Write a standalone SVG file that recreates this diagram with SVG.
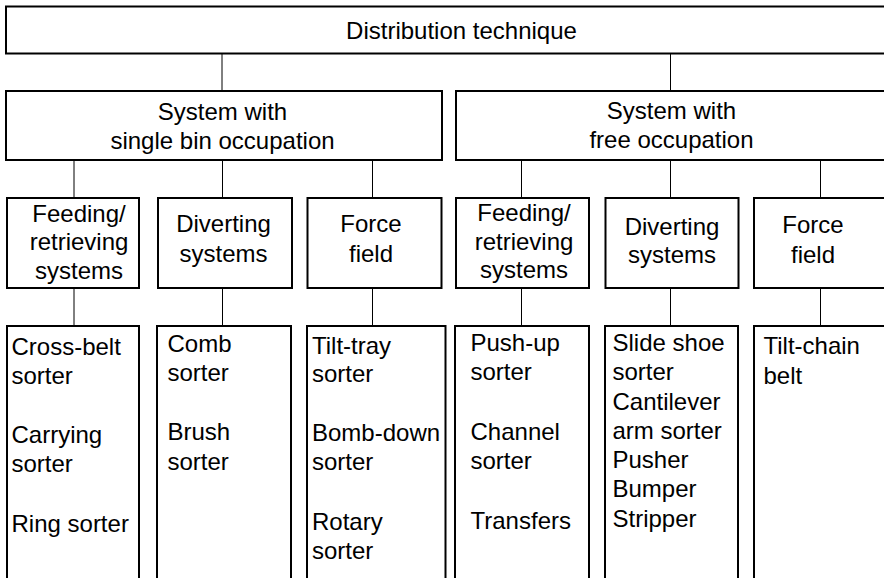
<svg xmlns="http://www.w3.org/2000/svg" width="884" height="578" viewBox="0 0 884 578">
<style>
.box{fill:#fff;stroke:#000;stroke-width:2}
.ln{stroke:#000;stroke-width:1;fill:none}
text{font-family:"Liberation Sans",Arial,sans-serif;font-size:24px;fill:#000}
.c{text-anchor:middle}
</style>
<rect width="884" height="578" fill="#fff"/>
<g id="connectors">
<line class="ln" x1="222" y1="53.5" x2="222" y2="91"/>
<line class="ln" x1="670.5" y1="53.5" x2="670.5" y2="91"/>
<line class="ln" x1="74" y1="160" x2="74" y2="198"/>
<line class="ln" x1="222.5" y1="160" x2="222.5" y2="198"/>
<line class="ln" x1="372.5" y1="160" x2="372.5" y2="198"/>
<line class="ln" x1="521.5" y1="160" x2="521.5" y2="198"/>
<line class="ln" x1="670.5" y1="160" x2="670.5" y2="198"/>
<line class="ln" x1="820.5" y1="160" x2="820.5" y2="198"/>
<line class="ln" x1="74" y1="288" x2="74" y2="326"/>
<line class="ln" x1="222.5" y1="288" x2="222.5" y2="326"/>
<line class="ln" x1="372.5" y1="288" x2="372.5" y2="326"/>
<line class="ln" x1="521.5" y1="288" x2="521.5" y2="326"/>
<line class="ln" x1="670.5" y1="288" x2="670.5" y2="326"/>
<line class="ln" x1="820.5" y1="288" x2="820.5" y2="326"/>
</g>
<g id="root">
<rect class="box" x="6" y="6.5" width="900" height="47"/>
<text class="c" x="461.5" y="38.5">Distribution technique</text>
</g>
<g id="single">
<rect class="box" x="6" y="91" width="436" height="69"/>
<text class="c" x="222.5" y="120">System with</text>
<text class="c" x="222.5" y="149">single bin occupation</text>
</g>
<g id="free">
<rect class="box" x="456" y="91" width="450" height="69"/>
<text class="c" x="671.5" y="119">System with</text>
<text class="c" x="671.5" y="148">free occupation</text>
</g>
<g id="s-feed">
<rect class="box" x="7" y="198" width="132" height="90"/>
<text class="c" x="79" y="221.5">Feeding/</text>
<text class="c" x="79" y="250">retrieving</text>
<text class="c" x="79" y="278.5">systems</text>
</g>
<g id="s-divert">
<rect class="box" x="158" y="198" width="134" height="90"/>
<text class="c" x="223.5" y="232">Diverting</text>
<text class="c" x="223.5" y="261.5">systems</text>
</g>
<g id="s-force">
<rect class="box" x="307.5" y="198" width="134" height="90"/>
<text class="c" x="371" y="232">Force</text>
<text class="c" x="371" y="261.5">field</text>
</g>
<g id="f-feed">
<rect class="box" x="456" y="198" width="133" height="90"/>
<text class="c" x="524" y="220.5">Feeding/</text>
<text class="c" x="524" y="249.5">retrieving</text>
<text class="c" x="524" y="278">systems</text>
</g>
<g id="f-divert">
<rect class="box" x="605.5" y="198" width="133" height="90"/>
<text class="c" x="672" y="235">Diverting</text>
<text class="c" x="672" y="263">systems</text>
</g>
<g id="f-force">
<rect class="box" x="754" y="198" width="150" height="90"/>
<text class="c" x="813" y="232.5">Force</text>
<text class="c" x="813" y="262.5">field</text>
</g>
<g id="list1">
<rect class="box" x="7" y="326" width="132" height="290"/>
<text x="11.5" y="355">Cross-belt</text>
<text x="11.5" y="383.5">sorter</text>
<text x="11.5" y="443">Carrying</text>
<text x="11.5" y="472">sorter</text>
<text x="11.5" y="532">Ring sorter</text>
</g>
<g id="list2">
<rect class="box" x="157" y="326" width="134" height="290"/>
<text x="167.5" y="352">Comb</text>
<text x="167.5" y="381">sorter</text>
<text x="167.5" y="440">Brush</text>
<text x="167.5" y="470">sorter</text>
</g>
<g id="list3">
<rect class="box" x="307" y="326" width="138.5" height="290"/>
<text x="312" y="353.5">Tilt-tray</text>
<text x="312" y="381.5">sorter</text>
<text x="312" y="440.5">Bomb-down</text>
<text x="312" y="470">sorter</text>
<text x="312" y="530">Rotary</text>
<text x="312" y="559">sorter</text>
</g>
<g id="list4">
<rect class="box" x="455" y="326" width="134" height="290"/>
<text x="470.5" y="351">Push-up</text>
<text x="470.5" y="380">sorter</text>
<text x="470.5" y="439.5">Channel</text>
<text x="470.5" y="468.5">sorter</text>
<text x="470.5" y="528.5">Transfers</text>
</g>
<g id="list5">
<rect class="box" x="605" y="326" width="133" height="290"/>
<text x="612.5" y="351">Slide shoe</text>
<text x="612.5" y="380">sorter</text>
<text x="612.5" y="409.5">Cantilever</text>
<text x="612.5" y="438.5">arm sorter</text>
<text x="612.5" y="467.5">Pusher</text>
<text x="612.5" y="497">Bumper</text>
<text x="612.5" y="526.5">Stripper</text>
</g>
<g id="list6">
<rect class="box" x="754" y="326" width="150" height="290"/>
<text x="763.5" y="354">Tilt-chain</text>
<text x="763.5" y="383.5">belt</text>
</g>
</svg>
